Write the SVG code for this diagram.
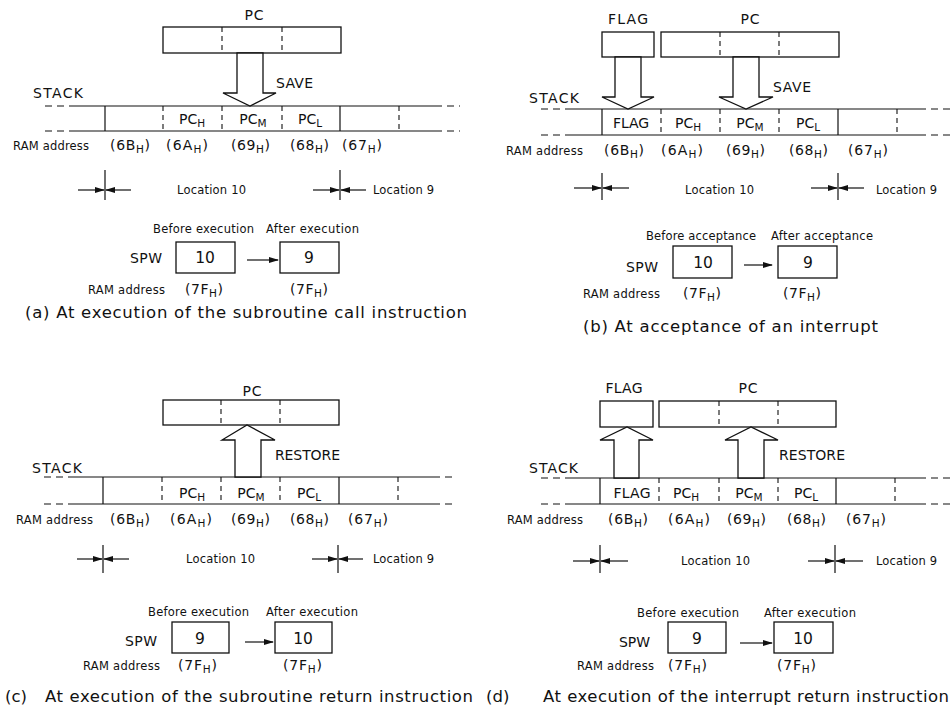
<svg xmlns="http://www.w3.org/2000/svg" width="952" height="710" viewBox="0 0 952 710">
<style>
text{font-family:"DejaVu Sans","Liberation Sans",sans-serif;fill:#111}
.m{font-size:14px}
.s{font-size:11.5px}
.n{font-size:15.5px}
.a{font-size:14px}
.sub{font-size:10.5px}
.cap{font-size:16.5px}
.mid{text-anchor:middle}
.box{fill:#fff;stroke:#111;stroke-width:1.3}
.ln{stroke:#111;stroke-width:1.2;fill:none}
.dv{stroke:#111;stroke-width:1.1;stroke-dasharray:5 4;fill:none}
.de{stroke:#111;stroke-width:1.2;stroke-dasharray:7 5;fill:none}
.big{fill:#fff;stroke:#111;stroke-width:1.3;stroke-linejoin:miter}
.sa{stroke:#111;stroke-width:1.2;fill:none;marker-end:url(#ah)}
</style>
<defs>
<marker id="ah" markerUnits="userSpaceOnUse" markerWidth="10" markerHeight="6" refX="9" refY="3" orient="auto"><path d="M0,0 L10,3 L0,6 z" fill="#111"/></marker>
</defs>
<rect width="952" height="710" fill="#fff"/>

<!-- ===== Panel (a) ===== -->
<g id="a-pc">
<text class="m mid" x="254" y="20" textLength="19">PC</text>
<rect class="box" x="163" y="27" width="178" height="26"/>
<path class="dv" d="M222,27V53M282,27V53"/>
</g>
<g id="a-stack">
<text class="m" x="33" y="98" textLength="50">STACK</text>
<path class="de" d="M45,106H70M435,106H460M45,131H70M435,131H460"/>
<path class="ln" d="M70,106H435M70,131H435M105,106V131M340,106V131"/>
<path class="dv" d="M163,106V131M222,106V131M282,106V131M399,106V131"/>
<text class="m mid" x="192" y="124">PC<tspan class="sub" dy="3">H</tspan></text>
<text class="m mid" x="253" y="124">PC<tspan class="sub" dy="3">M</tspan></text>
<text class="m mid" x="310" y="124">PC<tspan class="sub" dy="3">L</tspan></text>
<text class="s" x="13" y="150" textLength="76">RAM address</text>
<text class="a" x="110" y="150" textLength="40">(6B<tspan class="sub" dy="3">H</tspan><tspan dy="-3">)</tspan></text>
<text class="a" x="166" y="150" textLength="42">(6A<tspan class="sub" dy="3">H</tspan><tspan dy="-3">)</tspan></text>
<text class="a" x="231" y="150" textLength="39">(69<tspan class="sub" dy="3">H</tspan><tspan dy="-3">)</tspan></text>
<text class="a" x="290" y="150" textLength="39">(68<tspan class="sub" dy="3">H</tspan><tspan dy="-3">)</tspan></text>
<text class="a" x="342" y="150" textLength="40">(67<tspan class="sub" dy="3">H</tspan><tspan dy="-3">)</tspan></text>
</g>
<g id="a-locations">
<path class="ln" d="M105,170V200M340,170V200"/>
<text class="s" x="177" y="194" textLength="69">Location 10</text>
<text class="s" x="373" y="194" textLength="61">Location 9</text>
</g>
<g id="a-spw">
<text class="s" x="153" y="233" textLength="101">Before execution</text>
<text class="s" x="266" y="233" textLength="93">After execution</text>
<text class="m" x="130" y="263" textLength="32">SPW</text>
<rect class="box" x="176" y="242" width="59" height="31"/>
<text class="n mid" x="205" y="263">10</text>
<rect class="box" x="280" y="242" width="59" height="31"/>
<text class="n mid" x="309" y="263">9</text>
<text class="s" x="88" y="294" textLength="77">RAM address</text>
<text class="a" x="185" y="294" textLength="38">(7F<tspan class="sub" dy="3">H</tspan><tspan dy="-3">)</tspan></text>
<text class="a" x="290" y="294" textLength="38">(7F<tspan class="sub" dy="3">H</tspan><tspan dy="-3">)</tspan></text>
</g>
<text class="cap" x="25" y="318" textLength="442">(a) At execution of the subroutine call instruction</text>

<!-- ===== Panel (b) ===== -->
<g id="b-flag">
<text class="m mid" x="628" y="24" textLength="40">FLAG</text>
<rect class="box" x="602" y="32" width="52" height="25"/>
</g>
<g id="b-pc">
<text class="m mid" x="750" y="24" textLength="19">PC</text>
<rect class="box" x="661" y="32" width="178" height="25"/>
<path class="dv" d="M720,32V57M779,32V57"/>
</g>
<g id="b-stack">
<text class="m" x="529" y="103" textLength="50">STACK</text>
<path class="de" d="M541,109H569M919,109H952M541,135H569M919,135H952"/>
<path class="ln" d="M569,109H919M569,135H919M602,109V135M838,109V135"/>
<path class="dv" d="M661,109V135M720,109V135M779,109V135M897,109V135"/>
<text class="m mid" x="631" y="128" textLength="36">FLAG</text>
<text class="m mid" x="688" y="128">PC<tspan class="sub" dy="3">H</tspan></text>
<text class="m mid" x="750" y="128">PC<tspan class="sub" dy="3">M</tspan></text>
<text class="m mid" x="808" y="128">PC<tspan class="sub" dy="3">L</tspan></text>
<text class="s" x="506" y="155" textLength="77">RAM address</text>
<text class="a" x="604" y="155" textLength="40">(6B<tspan class="sub" dy="3">H</tspan><tspan dy="-3">)</tspan></text>
<text class="a" x="661" y="155" textLength="42">(6A<tspan class="sub" dy="3">H</tspan><tspan dy="-3">)</tspan></text>
<text class="a" x="726" y="155" textLength="39">(69<tspan class="sub" dy="3">H</tspan><tspan dy="-3">)</tspan></text>
<text class="a" x="789" y="155" textLength="39">(68<tspan class="sub" dy="3">H</tspan><tspan dy="-3">)</tspan></text>
<text class="a" x="848" y="155" textLength="40">(67<tspan class="sub" dy="3">H</tspan><tspan dy="-3">)</tspan></text>
</g>
<g id="b-locations">
<path class="ln" d="M602,173V200M838,173V200"/>
<text class="s" x="685" y="194" textLength="69">Location 10</text>
<text class="s" x="876" y="194" textLength="61">Location 9</text>
</g>
<g id="b-spw">
<text class="s" x="646" y="240" textLength="110">Before acceptance</text>
<text class="s" x="771" y="240" textLength="102">After acceptance</text>
<text class="m" x="626" y="272" textLength="32">SPW</text>
<rect class="box" x="673" y="246" width="59" height="32"/>
<text class="n mid" x="703" y="268">10</text>
<rect class="box" x="778" y="246" width="59" height="32"/>
<text class="n mid" x="808" y="268">9</text>
<text class="s" x="583" y="298" textLength="77">RAM address</text>
<text class="a" x="683" y="298" textLength="38">(7F<tspan class="sub" dy="3">H</tspan><tspan dy="-3">)</tspan></text>
<text class="a" x="783" y="298" textLength="38">(7F<tspan class="sub" dy="3">H</tspan><tspan dy="-3">)</tspan></text>
</g>
<text class="cap" x="583" y="332" textLength="295">(b) At acceptance of an interrupt</text>

<!-- ===== Panel (c) ===== -->
<g id="c-pc">
<text class="m mid" x="252" y="396" textLength="19">PC</text>
<rect class="box" x="163" y="400" width="176" height="25"/>
<path class="dv" d="M221,400V425M280,400V425"/>
</g>
<g id="c-stack">
<text class="m" x="32" y="473" textLength="50">STACK</text>
<path class="de" d="M44,477H68M433,477H457M44,504H68M433,504H457"/>
<path class="ln" d="M68,477H433M68,504H433M103,477V504M339,477V504"/>
<path class="dv" d="M162,477V504M221,477V504M280,477V504M398,477V504"/>
<text class="m mid" x="192" y="498">PC<tspan class="sub" dy="3">H</tspan></text>
<text class="m mid" x="251" y="498">PC<tspan class="sub" dy="3">M</tspan></text>
<text class="m mid" x="309" y="498">PC<tspan class="sub" dy="3">L</tspan></text>
<text class="s" x="16" y="524" textLength="77">RAM address</text>
<text class="a" x="110" y="524" textLength="40">(6B<tspan class="sub" dy="3">H</tspan><tspan dy="-3">)</tspan></text>
<text class="a" x="170" y="524" textLength="42">(6A<tspan class="sub" dy="3">H</tspan><tspan dy="-3">)</tspan></text>
<text class="a" x="231" y="524" textLength="39">(69<tspan class="sub" dy="3">H</tspan><tspan dy="-3">)</tspan></text>
<text class="a" x="290" y="524" textLength="39">(68<tspan class="sub" dy="3">H</tspan><tspan dy="-3">)</tspan></text>
<text class="a" x="348" y="524" textLength="40">(67<tspan class="sub" dy="3">H</tspan><tspan dy="-3">)</tspan></text>
</g>
<g id="c-locations">
<path class="ln" d="M103,545V573M338,545V573"/>
<text class="s" x="186" y="563" textLength="69">Location 10</text>
<text class="s" x="373" y="563" textLength="61">Location 9</text>
</g>
<g id="c-spw">
<text class="s" x="148" y="616" textLength="101">Before execution</text>
<text class="s" x="266" y="616" textLength="92">After execution</text>
<text class="m" x="125" y="646" textLength="32">SPW</text>
<rect class="box" x="172" y="622" width="57" height="31"/>
<text class="n mid" x="200" y="644">9</text>
<rect class="box" x="275" y="622" width="57" height="31"/>
<text class="n mid" x="303" y="644">10</text>
<text class="s" x="83" y="670" textLength="77">RAM address</text>
<text class="a" x="178" y="670" textLength="39">(7F<tspan class="sub" dy="3">H</tspan><tspan dy="-3">)</tspan></text>
<text class="a" x="283" y="670" textLength="39">(7F<tspan class="sub" dy="3">H</tspan><tspan dy="-3">)</tspan></text>
</g>
<text class="cap" x="5" y="702">(c)<tspan x="45" textLength="428">At execution of the subroutine return instruction</tspan></text>

<!-- ===== Panel (d) ===== -->
<g id="d-flag">
<text class="m mid" x="624" y="393" textLength="37">FLAG</text>
<rect class="box" x="600" y="401" width="53" height="26"/>
</g>
<g id="d-pc">
<text class="m mid" x="748" y="393" textLength="19">PC</text>
<rect class="box" x="659" y="401" width="177" height="26"/>
<path class="dv" d="M719,401V427M778,401V427"/>
</g>
<g id="d-stack">
<text class="m" x="529" y="473" textLength="49">STACK</text>
<path class="de" d="M541,478H568M919,478H952M541,504H568M919,504H952"/>
<path class="ln" d="M568,478H919M568,504H919M600,478V504M836,478V504"/>
<path class="dv" d="M659,478V504M719,478V504M778,478V504M895,478V504"/>
<text class="m mid" x="632" y="498" textLength="37">FLAG</text>
<text class="m mid" x="686" y="498">PC<tspan class="sub" dy="3">H</tspan></text>
<text class="m mid" x="749" y="498">PC<tspan class="sub" dy="3">M</tspan></text>
<text class="m mid" x="806" y="498">PC<tspan class="sub" dy="3">L</tspan></text>
<text class="s" x="507" y="524" textLength="76">RAM address</text>
<text class="a" x="608" y="524" textLength="40">(6B<tspan class="sub" dy="3">H</tspan><tspan dy="-3">)</tspan></text>
<text class="a" x="668" y="524" textLength="42">(6A<tspan class="sub" dy="3">H</tspan><tspan dy="-3">)</tspan></text>
<text class="a" x="727" y="524" textLength="39">(69<tspan class="sub" dy="3">H</tspan><tspan dy="-3">)</tspan></text>
<text class="a" x="787" y="524" textLength="39">(68<tspan class="sub" dy="3">H</tspan><tspan dy="-3">)</tspan></text>
<text class="a" x="846" y="524" textLength="40">(67<tspan class="sub" dy="3">H</tspan><tspan dy="-3">)</tspan></text>
</g>
<g id="d-locations">
<path class="ln" d="M600,545V573M835,545V573"/>
<text class="s" x="681" y="565" textLength="69">Location 10</text>
<text class="s" x="876" y="565" textLength="61">Location 9</text>
</g>
<g id="d-spw">
<text class="s" x="637" y="617" textLength="102">Before execution</text>
<text class="s" x="764" y="617" textLength="92">After execution</text>
<text class="m" x="619" y="647" textLength="31">SPW</text>
<rect class="box" x="668" y="622" width="58" height="31"/>
<text class="n mid" x="697" y="644">9</text>
<rect class="box" x="774" y="622" width="59" height="31"/>
<text class="n mid" x="803" y="644">10</text>
<text class="s" x="577" y="670" textLength="77">RAM address</text>
<text class="a" x="668" y="670" textLength="39">(7F<tspan class="sub" dy="3">H</tspan><tspan dy="-3">)</tspan></text>
<text class="a" x="777" y="670" textLength="39">(7F<tspan class="sub" dy="3">H</tspan><tspan dy="-3">)</tspan></text>
</g>
<text class="cap" x="486" y="702">(d)<tspan x="543" textLength="406">At execution of the interrupt return instruction</tspan></text>

<!-- ===== Connectors ===== -->
<g id="connectors">
<polygon class="big" points="237,53 237,93 223,93 250,106 276,93 263,93 263,53"/>
<text class="m" x="276" y="88" textLength="37">SAVE</text>
<polygon class="big" points="615,57 615,97 602,97 628,109 654,97 641,97 641,57"/>
<polygon class="big" points="733,57 733,97 719,97 746,109 773,97 759,97 759,57"/>
<text class="m" x="773" y="92" textLength="38">SAVE</text>
<polygon class="big" points="235,477 235,440 222,440 247,425 275,440 261,440 261,477"/>
<text class="m" x="275" y="460" textLength="65">RESTORE</text>
<polygon class="big" points="614,478 614,440 600,440 627,427 653,440 639,440 639,478"/>
<polygon class="big" points="738,478 738,440 725,440 751,427 778,440 764,440 764,478"/>
<text class="m" x="779" y="460" textLength="66">RESTORE</text>

<path class="sa" d="M78,190H104"/><path class="sa" d="M131,190H106"/>
<path class="sa" d="M313,190H339"/><path class="sa" d="M366,190H341"/>
<path class="sa" d="M574,188H601"/><path class="sa" d="M629,188H603"/>
<path class="sa" d="M811,188H837"/><path class="sa" d="M864,188H839"/>
<path class="sa" d="M77,559H102"/><path class="sa" d="M129,559H104"/>
<path class="sa" d="M312,559H337"/><path class="sa" d="M363,559H339"/>
<path class="sa" d="M573,561H599"/><path class="sa" d="M628,561H601"/>
<path class="sa" d="M808,561H834"/><path class="sa" d="M863,561H836"/>

<path class="sa" d="M247,260H278"/>
<path class="sa" d="M744,265H772"/>
<path class="sa" d="M245,642H273"/>
<path class="sa" d="M740,643H772"/>
</g>
</svg>
